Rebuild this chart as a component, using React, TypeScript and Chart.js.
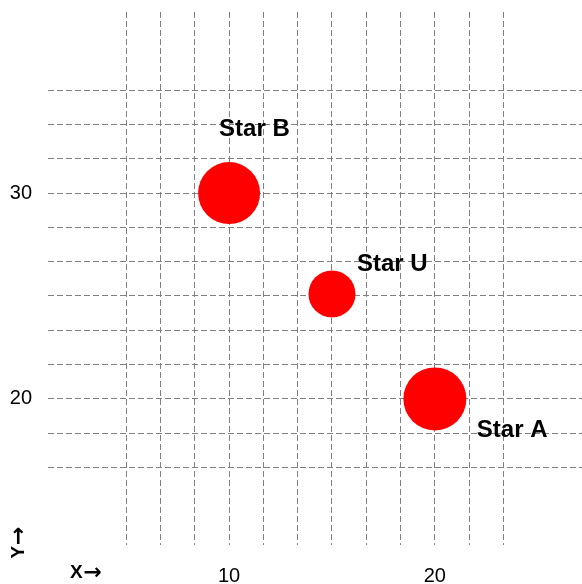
import React, { useEffect, useRef } from "react";
import { Chart, registerables } from "chart.js";

Chart.register(...registerables);

// ---- data ----
const starNames = ["Star A", "Star B", "Star U"];
const starX = [20, 10, 15];
const starY = [20, 30, 25.1];
const starSize = [31.5, 31, 23.5];

const xTickLabels = [10, 20];
const yTickLabels = [20, 30];
const gridStep = 5 / 3;
const xGridStart = 5;
const yGridStart = 5 + 7 * gridStep; // 16.67
const gridCount = 12;

const FONT = '"Liberation Sans", Arial, Helvetica, sans-serif';
const ARROW_FONT = '"DejaVu Sans", sans-serif';

const labelOffsets: Record<string, [number, number]> = {
  "Star A": [42, 31],
  "Star B": [-10, -64],
  "Star U": [25, -30],
};

function drawAxisWord(ctx: any, letter: string, cx: number, cy: number) {
  ctx.font = `bold 19px ${FONT}`;
  const lw = ctx.measureText(letter).width;
  ctx.font = `bold 22px ${ARROW_FONT}`;
  const aw = ctx.measureText("\u2192").width;
  const total = lw + 1 + aw;
  const x0 = cx - total / 2;
  ctx.textAlign = "left";
  ctx.textBaseline = "middle";
  ctx.font = `bold 19px ${FONT}`;
  ctx.fillText(letter, x0, cy);
  ctx.font = `bold 22px ${ARROW_FONT}`;
  ctx.fillText("\u2192", x0 + lw + 1, cy);
}

const labelPlugin = {
  id: "starLabels",
  afterDatasetsDraw(chart: any) {
    const ctx = chart.ctx;
    const meta = chart.getDatasetMeta(0);
    ctx.save();
    ctx.fillStyle = "#000";
    ctx.font = `bold 24px ${FONT}`;
    ctx.textAlign = "left";
    ctx.textBaseline = "middle";
    meta.data.forEach((el: any, i: number) => {
      const name = starNames[i];
      const off = labelOffsets[name];
      ctx.fillText(name, el.x + off[0], el.y + off[1]);
    });
    const area = chart.chartArea;
    drawAxisWord(ctx, "X", area.left + 38, area.bottom + 28);
    ctx.translate(19, area.bottom - 2.5);
    ctx.rotate(-Math.PI / 2);
    drawAxisWord(ctx, "Y", 0, 0);
    ctx.restore();
  },
};

function buildTicks(start: number) {
  const arr: { value: number }[] = [];
  for (let i = 0; i < gridCount; i++) arr.push({ value: start + i * gridStep });
  return arr;
}

function labelFor(list: number[]) {
  return (v: any) => {
    const n = Number(v);
    const hit = list.find((t) => Math.abs(t - n) < 1e-6);
    return hit !== undefined ? String(hit) : "";
  };
}

export default function App() {
  const ref = useRef<HTMLCanvasElement | null>(null);
  useEffect(() => {
    if (!ref.current) return;
    const chart = new Chart(ref.current, {
      type: "bubble",
      data: {
        datasets: [
          {
            data: starX.map((x, i) => ({ x, y: starY[i], r: starSize[i] })),
            backgroundColor: "#ff0000",
            borderWidth: 0,
          },
        ],
      },
      options: {
        animation: false,
        responsive: false,
        layout: { autoPadding: false, padding: { top: 12, left: 0, right: 0, bottom: 0 } },
        plugins: { legend: { display: false }, tooltip: { enabled: false } },
        scales: {
          x: {
            type: "linear",
            min: 1.2,
            max: 27.15,
            afterBuildTicks: (s: any) => {
              s.ticks = buildTicks(xGridStart);
            },
            afterFit: (s: any) => {
              s.height = 39;
              s.paddingLeft = 0;
              s.paddingRight = 0;
            },
            ticks: {
              autoSkip: false,
              maxRotation: 0,
              padding: 19,
              color: "#000",
              font: { family: FONT, size: 20 },
              callback: labelFor(xTickLabels),
            },
            grid: { color: "#808080", lineWidth: 1, drawTicks: false },
            border: { display: false, dash: [6, 3] },
          },
          y: {
            type: "linear",
            min: 12.9,
            max: 38.8,
            afterBuildTicks: (s: any) => {
              s.ticks = buildTicks(yGridStart);
            },
            afterFit: (s: any) => {
              s.width = 48;
              s.paddingTop = 0;
              s.paddingBottom = 0;
            },
            ticks: {
              autoSkip: false,
              padding: 16,
              color: "#000",
              font: { family: FONT, size: 20 },
              callback: labelFor(yTickLabels),
            },
            grid: { color: "#808080", lineWidth: 1, drawTicks: false },
            border: { display: false, dash: [6, 3] },
          },
        },
      } as any,
      plugins: [labelPlugin],
    });
    return () => chart.destroy();
  }, []);
  return (
    <div style={{ position: "fixed", left: 0, top: 0, width: 582, height: 584, background: "#fff" }}>
      <canvas ref={ref} width={582} height={584} style={{ display: "block" }} />
    </div>
  );
}
